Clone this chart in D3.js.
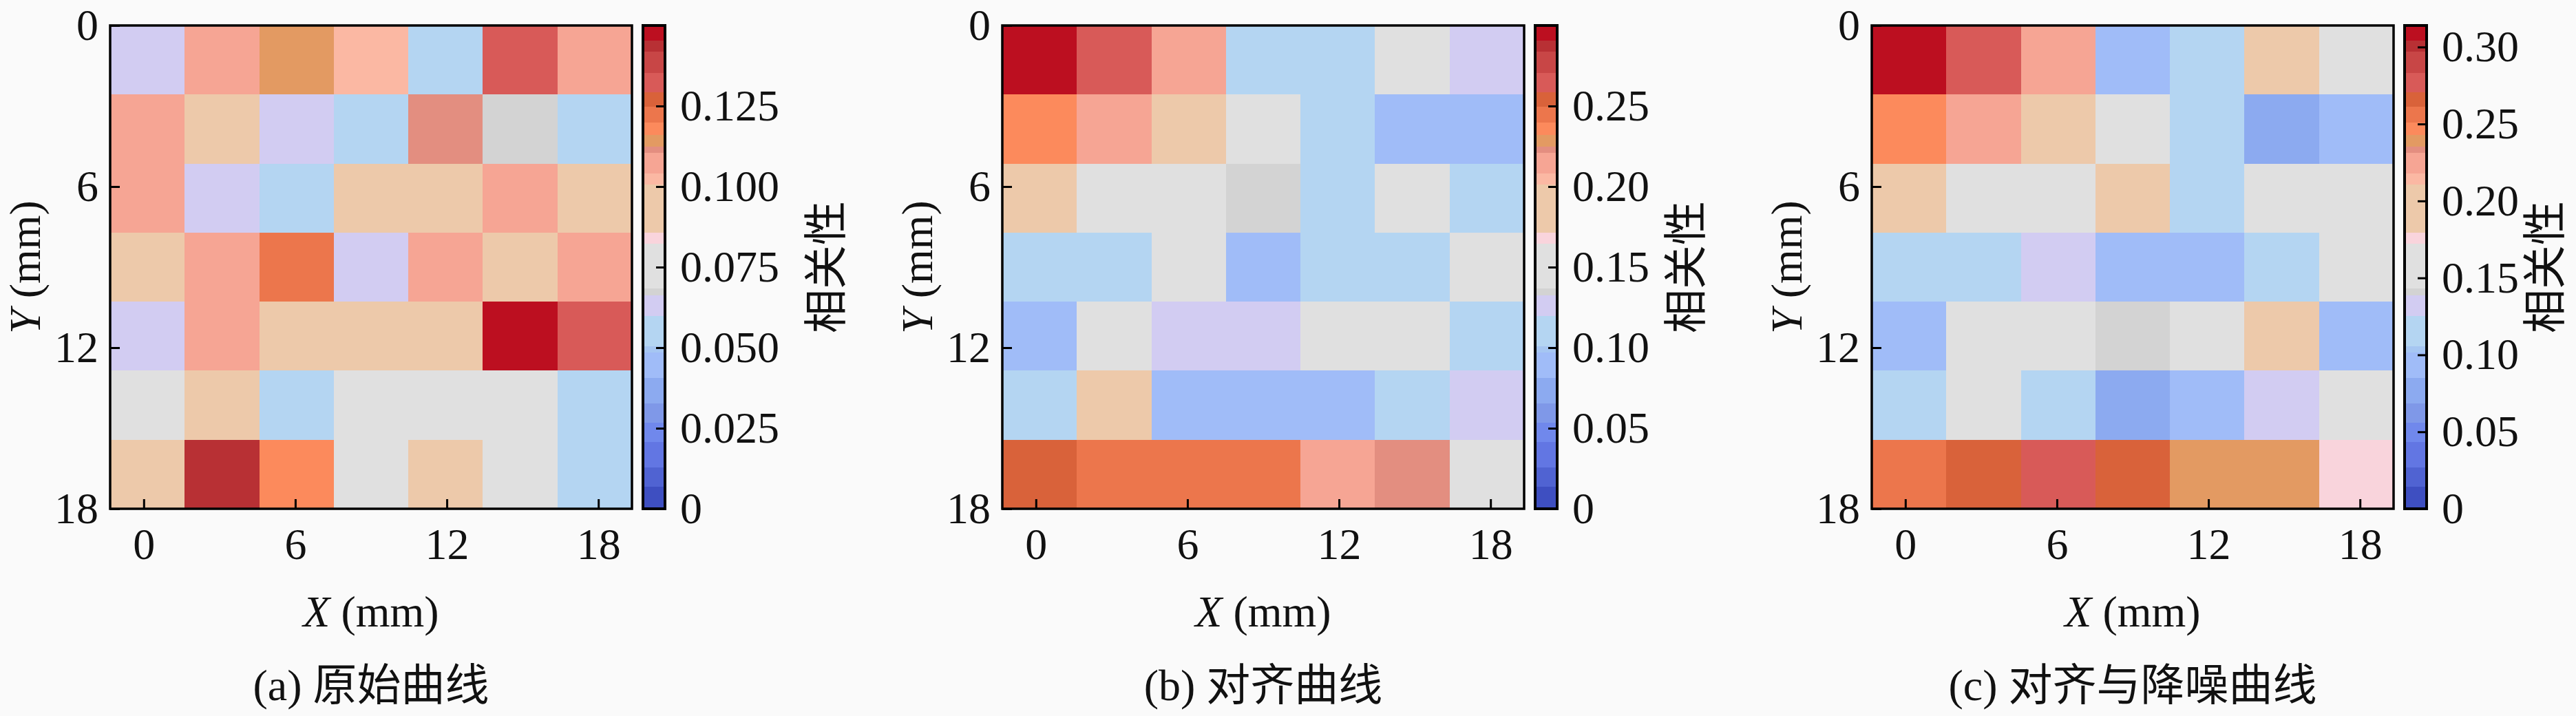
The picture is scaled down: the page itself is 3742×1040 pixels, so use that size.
<!DOCTYPE html>
<html>
<head>
    <meta charset="utf-8">
    <title>相关性热图</title>
    <script src="https://d3js.org/d3.v7.min.js"></script>
    <style>
        body { margin: 0; background: #fafafa; }
        text { fill: #111; }
    </style>
</head>
<body>
    <div id="chart"></div>

    <script>
        // ---- data ----
        const xTicks = [0, 6, 12, 18];
        const yTicks = [0, 6, 12, 18];
        const panelTitles = ["(a) 原始曲线", "(b) 对齐曲线", "(c) 对齐与降噪曲线"];
        const colorbarLabel = "相关性";

        // 7 x 7 grid, rows top to bottom (Y = 0 at top)
        const rawValues = [
          [0.062, 0.107, 0.114, 0.102, 0.056, 0.132, 0.108],
          [0.106, 0.093, 0.063, 0.055, 0.111, 0.067, 0.054],
          [0.108, 0.062, 0.057, 0.094, 0.092, 0.107, 0.091],
          [0.090, 0.106, 0.122, 0.064, 0.105, 0.095, 0.107],
          [0.061, 0.108, 0.093, 0.092, 0.094, 0.149, 0.133],
          [0.075, 0.089, 0.055, 0.074, 0.076, 0.073, 0.056],
          [0.092, 0.144, 0.118, 0.077, 0.090, 0.075, 0.054]
        ];
        const alignedValues = [
          [0.296, 0.265, 0.215, 0.112, 0.110, 0.150, 0.126],
          [0.236, 0.214, 0.186, 0.152, 0.111, 0.090, 0.089],
          [0.188, 0.148, 0.151, 0.135, 0.113, 0.149, 0.108],
          [0.109, 0.111, 0.150, 0.088, 0.112, 0.110, 0.147],
          [0.087, 0.153, 0.127, 0.125, 0.149, 0.151, 0.109],
          [0.111, 0.185, 0.091, 0.089, 0.090, 0.112, 0.126],
          [0.254, 0.245, 0.244, 0.246, 0.216, 0.223, 0.148]
        ];
        const denoisedValues = [
          [0.310, 0.277, 0.225, 0.095, 0.115, 0.195, 0.158],
          [0.247, 0.224, 0.193, 0.160, 0.116, 0.078, 0.094],
          [0.196, 0.157, 0.159, 0.194, 0.114, 0.156, 0.158],
          [0.113, 0.115, 0.132, 0.093, 0.092, 0.117, 0.157],
          [0.096, 0.158, 0.160, 0.141, 0.155, 0.192, 0.095],
          [0.116, 0.159, 0.114, 0.079, 0.094, 0.130, 0.157],
          [0.256, 0.266, 0.276, 0.265, 0.239, 0.240, 0.175]
        ];
        const colorMax = [0.150, 0.300, 0.314];
        const cbarTicksA = [0, 0.025, 0.05, 0.075, 0.1, 0.125];
        const cbarTicksB = [0, 0.05, 0.10, 0.15, 0.20, 0.25];
        const cbarTicksC = [0, 0.05, 0.10, 0.15, 0.20, 0.25, 0.30];

        // stepped coolwarm-like colormap (fraction of colour range -> colour)
        const cmapStops = [0.046, 0.086, 0.139, 0.179, 0.218, 0.271, 0.324, 0.337, 0.400, 0.443,
                           0.456, 0.549, 0.572, 0.671, 0.695, 0.737, 0.750, 0.774, 0.800, 0.833,
                           0.863, 0.903, 0.946, 0.969];
        const cmapColors = ["#3e4fc1", "#5063d2", "#6276e3", "#7088ec", "#7f98e8", "#8caaf0",
                            "#a0bcf8", "#a6c6f2", "#b4d5f2", "#d2ccf2", "#d3d3d3", "#e0e0e0",
                            "#f9d4dc", "#edc9aa", "#fbb8a3", "#f6a594", "#e38e80", "#e39a62",
                            "#fc8a5c", "#ec764c", "#d9623a", "#d85a58", "#c84646", "#b83034",
                            "#bc0f20"];

        // ---- layout ----
        const W = 3742, H = 1040;
        const plotTop = 37, plotBottom = 739, plotW = 758;
        const cbGap = 16, cbW = 32;
        const panels = [
          { left: 160,  values: rawValues,      vmax: colorMax[0], ticks: cbarTicksA, digits: 3, labelDx: 234 },
          { left: 1456, values: alignedValues,  vmax: colorMax[1], ticks: cbarTicksB, digits: 2, labelDx: 187 },
          { left: 2719, values: denoisedValues, vmax: colorMax[2], ticks: cbarTicksC, digits: 2, labelDx: 172 }
        ];
        const serif = "'Liberation Serif', 'DejaVu Serif', serif";
        const cjk = "'Noto Sans CJK SC', sans-serif";
        const fs = 64;

        const svg = d3.select("#chart")
          .append("svg")
            .attr("width", W)
            .attr("height", H)
            .style("background", "#fafafa");

        panels.forEach(function(p, pi) {
          const right = p.left + plotW;
          const g = svg.append("g");

          // axis scales
          const x = d3.scaleLinear().domain([-1.33, 19.33]).range([p.left, right]);
          const y = d3.scaleLinear().domain([0, 18]).range([plotTop, plotBottom]);
          const col = d3.scaleBand().domain(d3.range(7)).range([p.left, right]);
          const row = d3.scaleBand().domain(d3.range(7)).range([plotTop, plotBottom]);
          const color = d3.scaleThreshold()
            .domain(cmapStops.map(function(s) { return s * p.vmax; }))
            .range(cmapColors);

          // cells
          const cells = [];
          p.values.forEach(function(r, ri) {
            r.forEach(function(v, ci) { cells.push({ r: ri, c: ci, v: v }); });
          });
          g.append("g")
            .selectAll("rect")
            .data(cells)
            .enter()
            .append("rect")
              .attr("x", function(d) { return col(d.c); })
              .attr("y", function(d) { return row(d.r); })
              .attr("width", col.bandwidth() + 0.5)
              .attr("height", row.bandwidth() + 0.5)
              .attr("shape-rendering", "crispEdges")
              .style("fill", function(d) { return color(d.v); });

          // x axis (ticks point inward)
          const xAxis = g.append("g")
            .attr("transform", `translate(0,${plotBottom})`)
            .call(d3.axisBottom(x).tickValues(xTicks).tickSizeInner(-14).tickSizeOuter(0).tickPadding(28));
          xAxis.select(".domain").remove();
          xAxis.selectAll("line").attr("stroke", "#000").attr("stroke-width", 3);
          xAxis.selectAll("text")
            .style("font-family", serif).style("font-size", fs + "px").attr("fill", "#111");

          // y axis
          const yAxis = g.append("g")
            .attr("transform", `translate(${p.left},0)`)
            .call(d3.axisLeft(y).tickValues(yTicks).tickSizeInner(-14).tickSizeOuter(0).tickPadding(17));
          yAxis.select(".domain").remove();
          yAxis.selectAll("line").attr("stroke", "#000").attr("stroke-width", 3);
          yAxis.selectAll("text")
            .style("font-family", serif).style("font-size", fs + "px").attr("fill", "#111");

          // frame
          g.append("rect")
            .attr("x", p.left).attr("y", plotTop)
            .attr("width", plotW).attr("height", plotBottom - plotTop)
            .attr("fill", "none").attr("stroke", "#000").attr("stroke-width", 3.5);

          // axis labels
          const xl = g.append("text")
            .attr("x", (p.left + right) / 2).attr("y", 910)
            .attr("text-anchor", "middle")
            .style("font-family", serif).style("font-size", fs + "px");
          xl.append("tspan").style("font-style", "italic").text("X");
          xl.append("tspan").text(" (mm)");

          const yl = g.append("text")
            .attr("transform", `translate(${p.left - 102},${(plotTop + plotBottom) / 2}) rotate(-90)`)
            .attr("text-anchor", "middle")
            .style("font-family", serif).style("font-size", fs + "px");
          yl.append("tspan").style("font-style", "italic").text("Y");
          yl.append("tspan").text(" (mm)");

          // panel title
          const t = panelTitles[pi];
          const tt = g.append("text")
            .attr("x", (p.left + right) / 2).attr("y", 1017)
            .attr("text-anchor", "middle")
            .style("font-size", fs + "px");
          tt.append("tspan").style("font-family", serif).text(t.slice(0, 4));
          tt.append("tspan").style("font-family", cjk).text(t.slice(4));

          // colorbar
          const cbX = right + cbGap;
          const cy = d3.scaleLinear().domain([0, p.vmax]).range([plotBottom, plotTop]);
          const edges = [0].concat(color.domain(), [p.vmax]);
          const bands = d3.range(edges.length - 1).map(function(i) {
            return { lo: edges[i], hi: edges[i + 1], c: cmapColors[i] };
          });
          g.append("g")
            .selectAll("rect")
            .data(bands)
            .enter()
            .append("rect")
              .attr("x", cbX)
              .attr("y", function(d) { return cy(d.hi); })
              .attr("width", cbW)
              .attr("height", function(d) { return cy(d.lo) - cy(d.hi) + 0.5; })
              .attr("shape-rendering", "crispEdges")
              .style("fill", function(d) { return d.c; });

          const fmt = d3.format("." + p.digits + "f");
          const cAxis = g.append("g")
            .attr("transform", `translate(${cbX + cbW},0)`)
            .call(d3.axisRight(cy).tickValues(p.ticks)
              .tickFormat(function(d) { return d === 0 ? "0" : fmt(d); })
              .tickSizeInner(-13).tickSizeOuter(0).tickPadding(22));
          cAxis.select(".domain").remove();
          cAxis.selectAll("line").attr("stroke", "#000").attr("stroke-width", 3);
          cAxis.selectAll("text")
            .style("font-family", serif).style("font-size", fs + "px").attr("fill", "#111");

          g.append("rect")
            .attr("x", cbX).attr("y", plotTop)
            .attr("width", cbW).attr("height", plotBottom - plotTop)
            .attr("fill", "none").attr("stroke", "#000").attr("stroke-width", 4);

          g.append("text")
            .attr("transform", `translate(${cbX + cbW + p.labelDx},${(plotTop + plotBottom) / 2}) rotate(-90)`)
            .attr("text-anchor", "middle")
            .attr("dy", "0.35em")
            .style("font-family", cjk).style("font-size", fs + "px")
            .text(colorbarLabel);
        });
    </script>
</body>
</html>
